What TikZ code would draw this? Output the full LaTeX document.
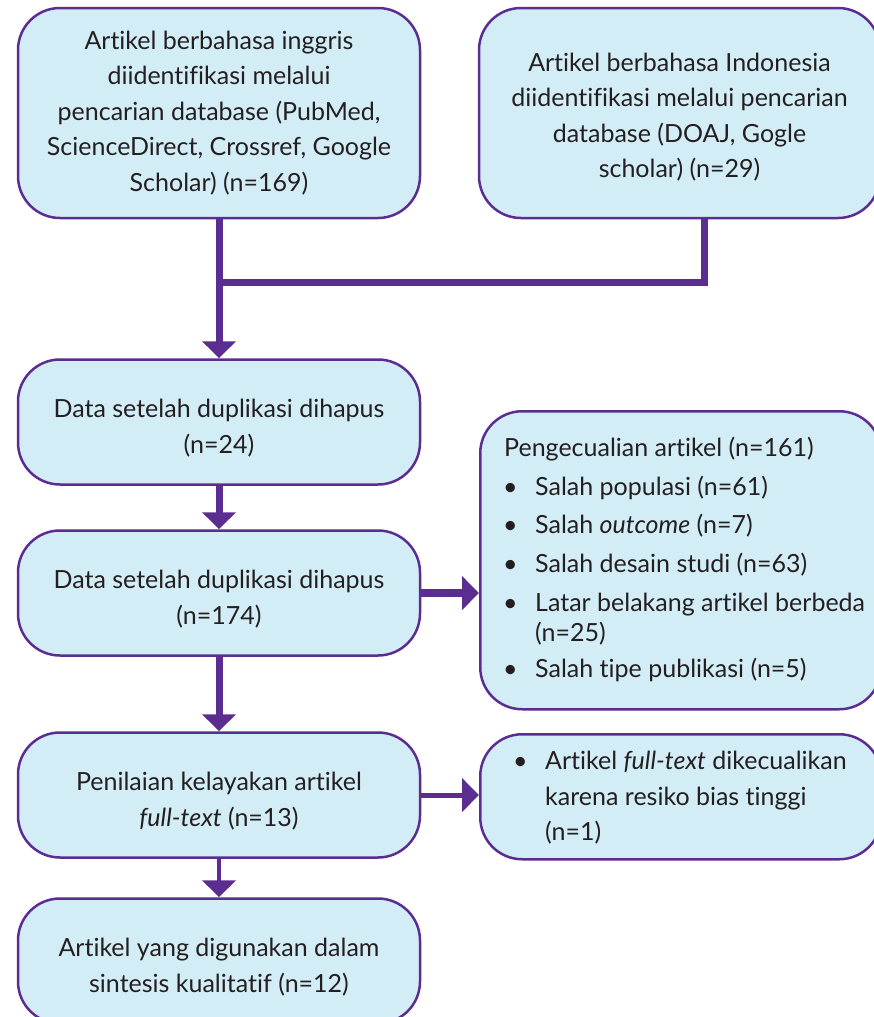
\documentclass[tikz,border=0pt]{standalone}
\usepackage{fontspec}
\setmainfont{Lato}[Ligatures=NoCommon]
\usetikzlibrary{arrows.meta}
\definecolor{boxfill}{RGB}{211,237,247}
\definecolor{pp}{RGB}{92,45,145}
\definecolor{txt}{RGB}{35,31,32}
\newcommand{\blt}{\makebox[32pt][l]{\textbullet}}
\begin{document}
\begin{tikzpicture}[x=1pt,y=-1pt,
  box/.style={draw=pp, line width=2.5pt, fill=boxfill, rounded corners=42pt,
    text=txt, font=\fontsize{25}{35.5}\selectfont, inner sep=0pt, align=center},
  lbl/.style={text=txt, font=\fontsize{25}{35.5}\selectfont, inner sep=0pt, align=center},
  conn/.style={draw=pp, line width=7pt},
  tip/.style={-{Triangle[width=33pt,length=17pt]}},
]
\useasboundingbox (0,0) rectangle (874,1017);

\node[box, minimum width=402pt, minimum height=210pt] (b1) at (219,113)
  {Artikel berbahasa inggris\\diidentifikasi melalui\\pencarian database (PubMed,\\ScienceDirect, Crossref, Google\\Scholar) (n=169)};
\node[box, minimum width=401pt, minimum height=210pt] (b2) at (679.5,113) {};
\node[lbl] (t2) at (679.5,117)
  {Artikel berbahasa Indonesia\\diidentifikasi melalui pencarian\\database (DOAJ, Gogle\\scholar) (n=29)};
\node[box, minimum width=402pt, minimum height=125pt] (b3) at (219,422) {};
\node[lbl] (t3) at (219,428) {Data setelah duplikasi dihapus\\(n=24)};
\node[box, minimum width=402pt, minimum height=125pt] (b4) at (219,593) {};
\node[lbl] (t4) at (219,599) {Data setelah duplikasi dihapus\\(n=174)};
\node[box, anchor=north west, minimum width=401pt, minimum height=298pt] (b5) at (479,410) {};
\node[lbl, anchor=west, align=left, font=\fontsize{25}{30}\selectfont] (t5) at (503,559)
  {\hspace*{1pt}Pengecualian artikel (n=161)\\[9pt]
   \blt Salah populasi (n=61)\\[8pt]
   \blt Salah \textit{outcome} (n=7)\\[9pt]
   \blt Salah desain studi (n=63)\\[9pt]
   \blt Latar belakang artikel berbeda\\
   \hspace*{32pt}(n=25)\\[6pt]
   \blt Salah tipe publikasi (n=5)};
\node[box, minimum width=402pt, minimum height=125pt] (b6) at (219,795) {};
\node[lbl] (t6) at (219,801) {Penilaian kelayakan artikel\\\textit{full-text} (n=13)};
\node[box, anchor=north west, minimum width=401pt, minimum height=125pt] (b7) at (479,733) {};
\node[lbl, anchor=west, align=left] (t7) at (513,798)
  {\blt Artikel \textit{full-text} dikecualikan\\
   \hspace*{32pt}karena resiko bias tinggi\\
   \hspace*{32pt}(n=1)};
\node[box, minimum width=402pt, minimum height=125pt] (b8) at (219,961) {};
\node[lbl] (t8) at (219,967) {Artikel yang digunakan dalam\\sintesis kualitatif (n=12)};

\coordinate (join) at (219,282);
\draw[conn] ([xshift=24.5pt]b2.south) |- (join);
\draw[conn,tip] (b1.south) -- (b3.north);
\draw[conn,tip] (b3.south) -- (b4.north);
\draw[conn,line width=8pt,tip] (b4.east) -- (b4.east -| b5.west);
\draw[conn,tip] (b4.south) -- (b6.north);
\draw[conn,line width=5pt,tip] (b6.east) -- (b6.east -| b7.west);
\draw[conn,line width=4.5pt,tip] (b6.south) -- (b8.north);
\end{tikzpicture}
\end{document}
